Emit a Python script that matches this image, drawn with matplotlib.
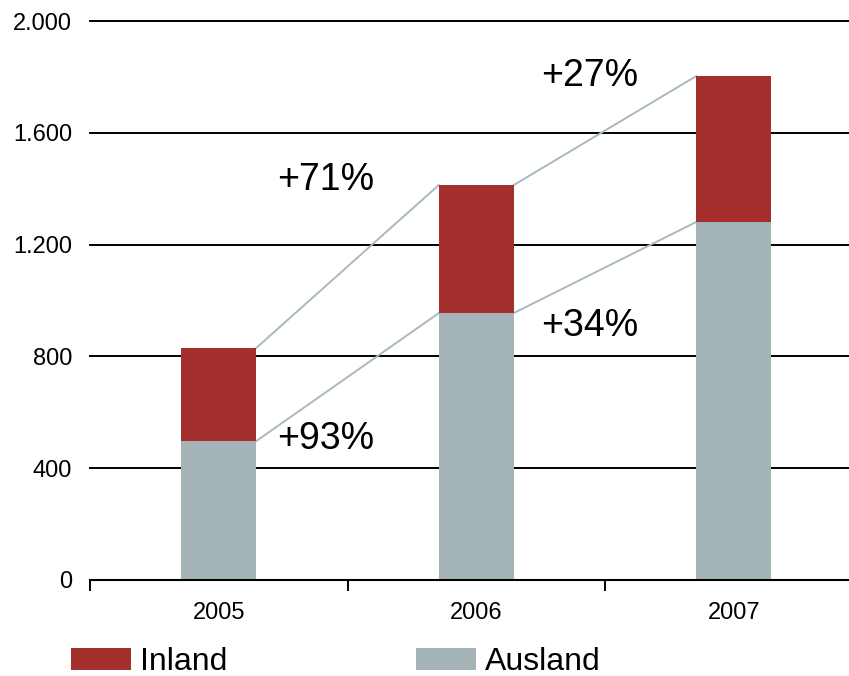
import matplotlib
matplotlib.use("Agg")
import matplotlib.pyplot as plt
from matplotlib.ticker import FuncFormatter

plt.rcParams['font.family'] = ['Liberation Sans', 'DejaVu Sans']

years = ["2005", "2006", "2007"]
ausland = [497, 955, 1281]
inland = [333, 458, 522]
growth_total = ["+71%", "+27%"]
growth_ausland = ["+93%", "+34%"]
y_ticks = [0, 400, 800, 1200, 1600, 2000]

red = "#A52F2C"
grey = "#A4B3B6"
line_col = "#A9B9BC"

W, H = 849, 676
fig = plt.figure(figsize=(W / 100, H / 100), dpi=100)
ax = fig.add_axes([90 / W, 1 - 580 / H, (W - 90) / W, 559 / H])

x = list(range(len(years)))
bw = 0.291
totals = [a + i for a, i in zip(ausland, inland)]

for yt in y_ticks[1:]:
    ax.axhline(yt, color="black", lw=1.4, zorder=1, clip_on=False)

b1 = ax.bar(x, ausland, width=bw, color=grey, zorder=3, label="Ausland")
b2 = ax.bar(x, inland, width=bw, bottom=ausland, color=red, zorder=3, label="Inland")

for k in range(len(years) - 1):
    ax.plot([x[k] + bw / 2, x[k + 1] - bw / 2], [totals[k], totals[k + 1]],
            color=line_col, lw=1.4, zorder=2)
    ax.plot([x[k] + bw / 2, x[k + 1] - bw / 2], [ausland[k], ausland[k + 1]],
            color=line_col, lw=1.4, zorder=2)

# growth labels
lab_x = [0.415, 1.44]
lab_total_y = [1432, 1805]
lab_aus_y = [503, 908]
for k in range(2):
    ax.text(lab_x[k], lab_total_y[k], growth_total[k], fontsize=27,
            ha="center", va="center", zorder=4)
    ax.text(lab_x[k], lab_aus_y[k], growth_ausland[k], fontsize=27,
            ha="center", va="center", zorder=4)

ax.set_xlim(-0.5, -0.5 + (W - 90) / 257.5)
ax.set_ylim(0, 2000)
ax.set_yticks(y_ticks)
ax.yaxis.set_major_formatter(FuncFormatter(lambda v, p: f"{int(v):,}".replace(",", ".")))
ax.tick_params(axis="y", length=0, pad=13, labelsize=17)
ax.set_xticks(x)
ax.set_xticklabels(years)
ax.tick_params(axis="x", which="major", length=0, pad=16, labelsize=17)
ax.set_xticks([-0.5, 0.5, 1.5], minor=True)
ax.tick_params(axis="x", which="minor", length=8, width=1.4, direction="out", color="black")

for s in ["left", "right", "top"]:
    ax.spines[s].set_visible(False)
ax.spines["bottom"].set_linewidth(1.5)
ax.spines["bottom"].set_zorder(5)

leg = fig.legend(handles=[b2, b1], labels=["Inland", "Ausland"], ncol=2, frameon=False,
                 loc="center left", bbox_to_anchor=(71 / W, 1 - 662 / H),
                 fontsize=23, handlelength=1.88, handleheight=0.66,
                 handletextpad=0.28, columnspacing=5.9, borderpad=0, borderaxespad=0)

fig.savefig("out.png", dpi=100)
